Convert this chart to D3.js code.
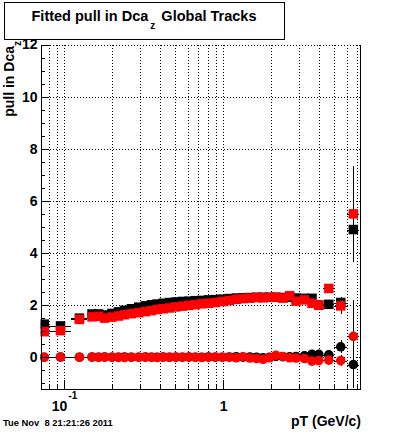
<!DOCTYPE html>
<meta charset="utf-8">
<style>
body { margin: 0; background: #fff; }
svg { display: block; background: #fff; }
text { font-family: "Liberation Sans", Arial, Helvetica, sans-serif; font-weight: bold; }
.grid line { stroke: #000; stroke-width: 1px; stroke-dasharray: 1,2; shape-rendering: crispEdges; }
.axis path, .axis line { stroke: #000; shape-rendering: crispEdges; }
.bar line { stroke: #000; stroke-width: 1px; shape-rendering: crispEdges; }
</style>
<svg width="400" height="433"></svg>
<script src="https://cdnjs.cloudflare.com/ajax/libs/d3/7.8.5/d3.min.js"></script>
<script>

// pT bin edges (GeV/c), points sit at bin centres
var ptEdges = [0.07, 0.08, 0.11, 0.14, 0.16, 0.17, 0.19, 0.21, 0.23, 0.25,
               0.28, 0.31, 0.34, 0.37, 0.40, 0.44, 0.48, 0.53, 0.58, 0.64,
               0.70, 0.77, 0.85, 0.94, 1.04, 1.15, 1.27, 1.40, 1.55, 1.70,
               1.87, 2.05, 2.25, 2.50, 2.75, 3.00, 3.50, 3.75, 4.25, 5.00,
               6.00, 7.20];

// fitted sigma of the pull (squares)
var sigmaBlack = [1.27, 1.20, 1.50, 1.66, 1.66, 1.62, 1.68, 1.74, 1.80, 1.86,
                  1.92, 1.97, 2.01, 2.04, 2.07, 2.10, 2.12, 2.14, 2.15, 2.17,
                  2.18, 2.20, 2.21, 2.23, 2.25, 2.27, 2.28, 2.29, 2.30, 2.30,
                  2.30, 2.30, 2.29, 2.30, 2.27, 2.26, 2.26, 2.00, 2.03, 2.10,
                  4.90];
var sigmaBlackErr = [0.06, 0.05, 0.04, 0.03, 0.03, 0.02, 0.02, 0.02, 0.02, 0.02,
                     0.02, 0.02, 0.02, 0.02, 0.02, 0.02, 0.02, 0.02, 0.02, 0.02,
                     0.02, 0.02, 0.02, 0.02, 0.02, 0.02, 0.02, 0.03, 0.03, 0.03,
                     0.03, 0.04, 0.04, 0.05, 0.05, 0.06, 0.08, 0.10, 0.12, 0.20,
                     1.10];
var sigmaRed = [0.98, 1.02, 1.45, 1.55, 1.57, 1.50, 1.54, 1.58, 1.63, 1.67,
                1.71, 1.75, 1.79, 1.83, 1.86, 1.89, 1.93, 1.96, 1.99, 2.02,
                2.05, 2.07, 2.10, 2.14, 2.18, 2.22, 2.25, 2.27, 2.29, 2.28,
                2.30, 2.30, 2.27, 2.36, 2.15, 2.20, 2.07, 2.00, 2.64, 1.97,
                5.50];
var sigmaRedErr = [0.06, 0.05, 0.04, 0.03, 0.03, 0.02, 0.02, 0.02, 0.02, 0.02,
                   0.02, 0.02, 0.02, 0.02, 0.02, 0.02, 0.02, 0.02, 0.02, 0.02,
                   0.02, 0.02, 0.02, 0.02, 0.02, 0.02, 0.02, 0.03, 0.03, 0.03,
                   0.03, 0.04, 0.04, 0.05, 0.05, 0.06, 0.08, 0.10, 0.12, 0.30,
                   1.85];

// fitted mean of the pull (circles)
var meanBlack = [0.00, 0.01, 0.00, 0.01, 0.00, 0.01, 0.00, 0.00, 0.01, 0.00,
                 0.00, 0.01, 0.00, 0.00, 0.01, 0.00, 0.00, 0.00, 0.01, 0.00,
                 0.00, 0.01, 0.00, 0.00, 0.01, 0.02, 0.00, 0.01, 0.00, -0.02,
                 0.00, 0.03, 0.02, 0.02, 0.03, 0.05, 0.11, 0.11, 0.09, 0.40,
                 -0.28];
var meanBlackErr = [0.03, 0.03, 0.02, 0.02, 0.02, 0.02, 0.02, 0.02, 0.02, 0.02,
                    0.02, 0.02, 0.02, 0.02, 0.02, 0.02, 0.02, 0.02, 0.02, 0.02,
                    0.02, 0.02, 0.02, 0.02, 0.02, 0.02, 0.02, 0.02, 0.02, 0.03,
                    0.03, 0.03, 0.03, 0.04, 0.04, 0.05, 0.06, 0.08, 0.10, 0.25,
                    0.90];
var meanRed = [0.00, 0.00, 0.00, 0.00, 0.00, 0.00, 0.00, 0.00, -0.01, 0.00,
               0.00, 0.00, 0.00, -0.01, 0.00, 0.00, 0.01, 0.00, 0.00, 0.00,
               -0.01, 0.00, 0.01, 0.00, 0.00, -0.02, 0.02, -0.03, -0.05, -0.08,
               -0.02, 0.07, 0.03, -0.02, -0.03, -0.05, -0.15, -0.13, -0.11, -0.13,
               0.80];
var meanRedErr = [0.03, 0.03, 0.02, 0.02, 0.02, 0.02, 0.02, 0.02, 0.02, 0.02,
                  0.02, 0.02, 0.02, 0.02, 0.02, 0.02, 0.02, 0.02, 0.02, 0.02,
                  0.02, 0.02, 0.02, 0.02, 0.02, 0.02, 0.02, 0.02, 0.02, 0.03,
                  0.03, 0.03, 0.03, 0.04, 0.04, 0.05, 0.06, 0.08, 0.10, 0.20,
                  1.40];

var yMajor = [0, 2, 4, 6, 8, 10, 12];
var yMinor = [-1, -0.5, 0.5, 1, 1.5, 2.5, 3, 3.5, 4.5, 5, 5.5, 6.5, 7, 7.5,
              8.5, 9, 9.5, 10.5, 11, 11.5];
var xMajor = [0.1, 1];
var xMinor = [0.08, 0.09, 0.2, 0.3, 0.4, 0.5, 0.6, 0.7, 0.8, 0.9,
              2, 3, 4, 5, 6, 7];

var svg = d3.select("svg");

var x = d3.scaleLog().domain([0.0711, 7.32]).range([40.5, 360.5]),
    y = d3.scaleLinear().domain([-1.2, 12]).range([388.5, 44.5]);

var x0 = x.range()[0], x1 = x.range()[1],
    yb = y.range()[0], yt = y.range()[1];

svg.append("defs").append("clipPath").attr("id", "plot")
  .append("rect")
    .attr("x", x0).attr("y", yt)
    .attr("width", x1 - x0).attr("height", yb - yt);

// grid
var grid = svg.append("g").attr("class", "grid");
grid.selectAll(".gx").data(xMajor.concat(xMinor)).enter().append("line")
    .attr("x1", function(d) { return Math.round(x(d)) + 0.5; })
    .attr("x2", function(d) { return Math.round(x(d)) + 0.5; })
    .attr("y1", yt).attr("y2", yb);
grid.selectAll(".gy").data(yMajor).enter().append("line")
    .attr("x1", x0).attr("x2", x1)
    .attr("y1", function(d) { return Math.round(y(d)) + 0.5; })
    .attr("y2", function(d) { return Math.round(y(d)) + 0.5; });

// data
var series = [
  {val: sigmaBlack, err: sigmaBlackErr, color: "#000", shape: "square"},
  {val: meanBlack,  err: meanBlackErr,  color: "#000", shape: "circle"},
  {val: sigmaRed,   err: sigmaRedErr,   color: "#f00", shape: "square"},
  {val: meanRed,    err: meanRedErr,    color: "#f00", shape: "circle"}
];

var plot = svg.append("g").attr("clip-path", "url(#plot)");

series.forEach(function(s) {
  var pts = s.val.map(function(v, i) {
    var lo = ptEdges[i], hi = ptEdges[i + 1];
    return {lo: lo, hi: hi, pt: (lo + hi) / 2, v: v, e: s.err[i]};
  });

  var g = plot.append("g");
  var bars = g.append("g").attr("class", "bar");
  bars.selectAll(".h").data(pts).enter().append("line")
      .attr("x1", function(d) { return x(d.lo); })
      .attr("x2", function(d) { return x(d.hi); })
      .attr("y1", function(d) { return Math.round(y(d.v)) + 0.5; })
      .attr("y2", function(d) { return Math.round(y(d.v)) + 0.5; });
  bars.selectAll(".v").data(pts).enter().append("line")
      .attr("x1", function(d) { return Math.round(x(d.pt)) + 0.5; })
      .attr("x2", function(d) { return Math.round(x(d.pt)) + 0.5; })
      .attr("y1", function(d) { return y(d.v - d.e); })
      .attr("y2", function(d) { return y(d.v + d.e); });

  if (s.shape === "square") {
    g.selectAll("rect").data(pts).enter().append("rect")
        .attr("x", function(d) { return x(d.pt) - 4.75; })
        .attr("y", function(d) { return y(d.v) - 4.75; })
        .attr("width", 9.5).attr("height", 9.5)
        .attr("fill", s.color);
  } else {
    g.selectAll("circle").data(pts).enter().append("circle")
        .attr("cx", function(d) { return x(d.pt); })
        .attr("cy", function(d) { return y(d.v); })
        .attr("r", 4.8)
        .attr("fill", s.color);
  }
});

// frame right side
svg.append("line")
    .attr("x1", x1).attr("x2", x1).attr("y1", yt).attr("y2", yb)
    .attr("stroke", "#000").attr("shape-rendering", "crispEdges");

// axes
var yAxis = svg.append("g").attr("class", "axis")
    .attr("transform", "translate(" + x0 + ",0)")
    .call(d3.axisLeft(y).tickValues(yMajor).tickSizeInner(-8).tickSizeOuter(0)
      .tickPadding(3).tickFormat(d3.format("d")));
yAxis.append("g")
    .call(d3.axisLeft(y).tickValues(yMinor).tickSizeInner(-4.5).tickSizeOuter(0)
      .tickFormat(""));
yAxis.attr("font-family", null).attr("font-size", 14);

var xAxis = svg.append("g").attr("class", "axis")
    .attr("transform", "translate(0," + yb + ")")
    .call(d3.axisBottom(x).tickValues(xMajor).tickSizeInner(-9).tickSizeOuter(0)
      .tickPadding(12.5).tickFormat(function(d) { return d === 1 ? "1" : "10"; }));
xAxis.append("g")
    .call(d3.axisBottom(x).tickValues(xMinor).tickSizeInner(-4.5).tickSizeOuter(0)
      .tickFormat(""));
xAxis.attr("font-family", null).attr("font-size", 14);
xAxis.selectAll(".tick text").filter(function(d) { return d === 0.1; })
  .append("tspan")
    .attr("font-size", 10)
    .attr("dx", 1)
    .attr("dy", -11.5)
    .text("-1");

// axis titles
svg.append("text")
    .attr("x", 361).attr("y", 426)
    .attr("text-anchor", "end")
    .attr("font-size", 14)
    .text("pT (GeV/c)");

var yTitle = svg.append("text")
    .attr("transform", "translate(14,41) rotate(-90)")
    .attr("text-anchor", "end")
    .attr("font-size", 14);
yTitle.append("tspan").text("pull in Dca");
yTitle.append("tspan").attr("font-size", 10).attr("dy", 7).text("z");

// title box
svg.append("rect")
    .attr("x", 4.5).attr("y", 2.5).attr("width", 280).attr("height", 37)
    .attr("fill", "#fff").attr("stroke", "#000");
var title = svg.append("text")
    .attr("x", 144).attr("y", 21)
    .attr("text-anchor", "middle")
    .attr("font-size", 14.5);
title.append("tspan").text("Fitted pull in Dca");
title.append("tspan").attr("font-size", 10).attr("dx", 2).attr("dy", 8).text("z");
title.append("tspan").attr("dx", 2).attr("dy", -8).text(" Global Tracks");

// date stamp
svg.append("text")
    .attr("x", 3).attr("y", 425.5)
    .attr("font-size", 9.4)
    .style("white-space", "pre")
    .text("Tue Nov  8 21:21:26 2011");

</script>
